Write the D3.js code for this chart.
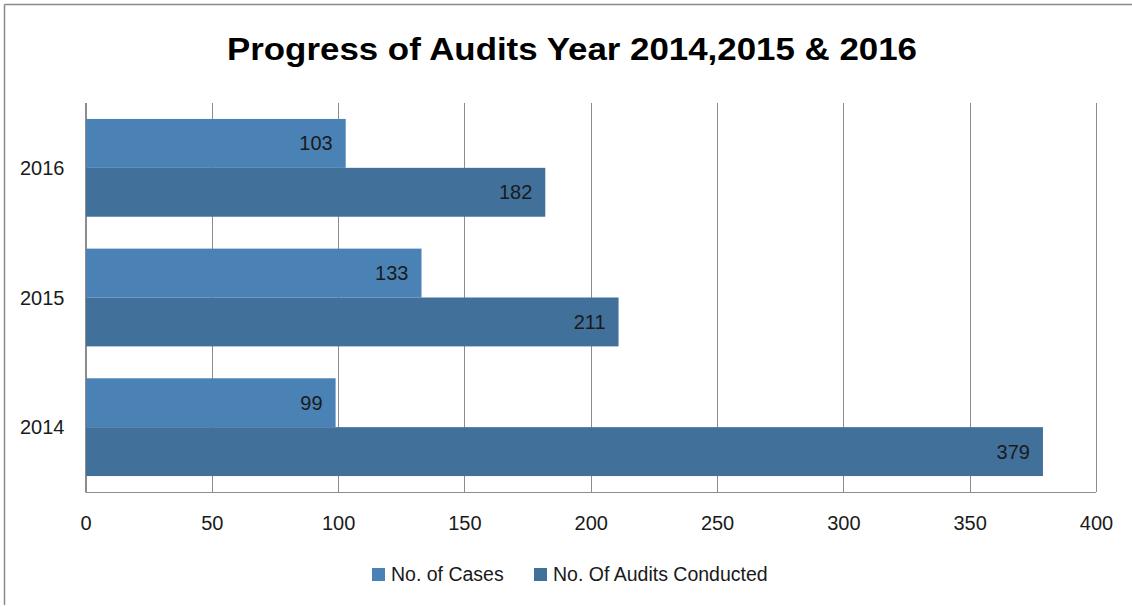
<!DOCTYPE html>
<html>
<head>
<meta charset="utf-8">
<script src="https://cdn.jsdelivr.net/npm/d3@7"></script>
<style>
  html, body { margin: 0; padding: 0; background: #fff; }
  svg { display: block; }
</style>
</head>
<body>
<svg id="chart" width="1132" height="607"></svg>
<script>
const title = "Progress of Audits Year 2014,2015 & 2016";
const categories = ["2016", "2015", "2014"];
const seriesNames = ["No. of Cases", "No. Of Audits Conducted"];
const casesValues = [103, 133, 99];
const auditsValues = [182, 211, 379];
const xTicks = [0, 50, 100, 150, 200, 250, 300, 350, 400];
const colors = ["#4A82B6", "#41709B"];

const font = "'Liberation Sans', Arial, sans-serif";
const svg = d3.select("#chart");

// chart border (top and left visible)
svg.append("line").attr("x1", 4.5).attr("x2", 1132).attr("y1", 4.5).attr("y2", 4.5)
  .attr("stroke", "#8a8a8a").attr("stroke-width", 1.5);
svg.append("line").attr("x1", 4.5).attr("x2", 4.5).attr("y1", 4.5).attr("y2", 605)
  .attr("stroke", "#8a8a8a").attr("stroke-width", 1.5);

const plot = { left: 85.5, right: 1096, top: 103, bottom: 492 };

const x = d3.scaleLinear().domain([0, 400]).range([plot.left, plot.right]);
const y = d3.scaleBand().domain(categories).range([plot.top, plot.bottom]).paddingInner(0.246).paddingOuter(0.123);
const ySub = d3.scaleBand().domain(seriesNames).range([0, y.bandwidth()]);

// gridlines
svg.append("g").selectAll("line").data(xTicks).join("line")
  .attr("x1", d => Math.round(x(d)) + 0.5).attr("x2", d => Math.round(x(d)) + 0.5)
  .attr("y1", plot.top).attr("y2", plot.bottom)
  .attr("stroke", "#8c8c8c").attr("stroke-width", 1);

// bars
const data = categories.map((c, i) => ({ cat: c, vals: [casesValues[i], auditsValues[i]] }));
const groups = svg.append("g").selectAll("g").data(data).join("g")
  .attr("transform", d => `translate(0,${y(d.cat)})`);
groups.selectAll("rect").data(d => d.vals.map((v, j) => ({ v, s: seriesNames[j], j }))).join("rect")
  .attr("x", x(0)).attr("y", d => ySub(d.s))
  .attr("width", d => x(d.v) - x(0)).attr("height", ySub.bandwidth())
  .attr("fill", d => colors[d.j]);
groups.selectAll("text").data(d => d.vals.map((v, j) => ({ v, s: seriesNames[j], j }))).join("text")
  .attr("x", d => x(d.v) - 13).attr("y", d => ySub(d.s) + ySub.bandwidth() / 2)
  .attr("dy", "0.35em").attr("text-anchor", "end")
  .attr("font-family", font).attr("font-size", 20).attr("fill", "#1a1a1a")
  .text(d => d.v);

// axis lines
svg.append("line").attr("x1", plot.left).attr("x2", plot.right).attr("y1", plot.bottom + 0.5).attr("y2", plot.bottom + 0.5)
  .attr("stroke", "#8c8c8c");
svg.append("line").attr("x1", plot.left).attr("x2", plot.left).attr("y1", plot.top).attr("y2", plot.bottom)
  .attr("stroke", "#8c8c8c");

// x axis labels
const xAxis = d3.axisBottom(x).tickValues(xTicks).tickSize(0).tickPadding(0);
const xg = svg.append("g").attr("transform", `translate(0,${plot.bottom})`).call(xAxis);
xg.select(".domain").remove();
xg.selectAll("text").attr("y", 31).attr("dy", "0.35em")
  .attr("font-family", font).attr("font-size", 20).attr("fill", "#1a1a1a");

// y axis labels
const yAxis = d3.axisLeft(y).tickSize(0).tickPadding(0);
const yg = svg.append("g").attr("transform", `translate(${plot.left},0)`).call(yAxis);
yg.select(".domain").remove();
yg.selectAll("text").attr("x", -21).attr("dy", "0.35em")
  .attr("font-family", font).attr("font-size", 20).attr("fill", "#1a1a1a");

// title
svg.append("text").attr("x", 572).attr("y", 59.5).attr("text-anchor", "middle")
  .attr("font-family", font).attr("font-weight", "bold").attr("font-size", 31).attr("fill", "#000")
  .attr("textLength", 690).attr("lengthAdjust", "spacingAndGlyphs")
  .text(title);

// legend
const legendItems = [
  { name: seriesNames[0], color: colors[0], x: 372 },
  { name: seriesNames[1], color: colors[1], x: 534 }
];
const lg = svg.append("g").selectAll("g").data(legendItems).join("g")
  .attr("transform", d => `translate(${d.x},568)`);
lg.append("rect").attr("width", 13).attr("height", 13).attr("fill", d => d.color);
lg.append("text").attr("x", 19).attr("y", 6.5).attr("dy", "0.35em")
  .attr("font-family", font).attr("font-size", 19.5).attr("fill", "#1a1a1a")
  .text(d => d.name);
</script>
</body>
</html>
